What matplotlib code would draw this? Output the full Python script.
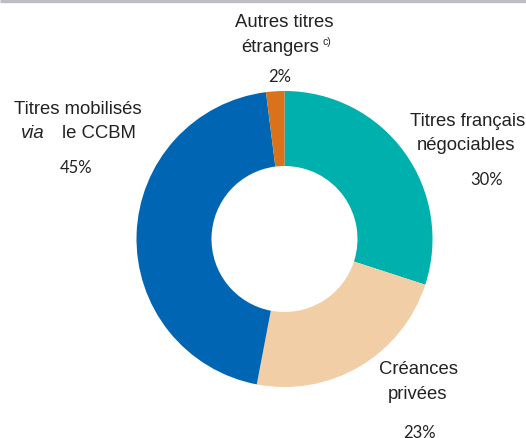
import matplotlib
matplotlib.use("Agg")
import matplotlib.pyplot as plt

# Répartition des garanties
categories = ["Titres français négociables", "Créances privées",
              "Titres mobilisés via le CCBM", "Autres titres étrangers"]
shares = [30, 23, 45, 2]
share_labels = ["30%", "23%", "45%", "2%"]
colors = ["#00b0ad", "#f2cea6", "#0066b3", "#d8731b"]

W, H = 526, 439
fig = plt.figure(figsize=(W / 100, H / 100), dpi=100)
ax = fig.add_axes([0, 0, 1, 1])

cx, cy = 284.5, H - 240
r_out, r_in = 148, 73

ax.pie(shares, colors=colors, startangle=90, counterclock=False,
       center=(cx, cy), radius=r_out, frame=True,
       wedgeprops=dict(width=r_out - r_in, linewidth=0))
ax.set_xlim(0, W)
ax.set_ylim(0, H)
ax.set_aspect("auto")
ax.axis("off")

# thin rule along the top edge
ax.plot([0, W], [H - 1.5, H - 1.5], color="#bdbdc2", linewidth=2.4,
        solid_capstyle="butt", clip_on=False)

lab = dict(fontsize=13.3, color="#222222", family="Liberation Sans",
           va="center")
pct = dict(fontsize=12, color="#222222", family="Lato",
           ha="center", va="center")


def Y(y):
    return H - y


# Autres titres étrangers
ax.text(284, Y(22), "Autres titres", ha="center", **lab)
ax.text(280, Y(47), "étrangers", ha="center", **lab)
ax.text(327, Y(42), "c)", fontsize=7.5, color="#222222",
        family="Liberation Sans", ha="center", va="center")
ax.text(280, Y(77), share_labels[3], **pct)

# Titres mobilisés via le CCBM
ax.text(78, Y(110), "Titres mobilisés", ha="center", **lab)
ax.text(33, Y(134), "via", ha="center", style="italic", **lab)
ax.text(99, Y(134), "le CCBM", ha="center", **lab)
ax.text(76, Y(168), share_labels[2], **pct)

# Titres français négociables
ax.text(468, Y(122), "Titres français", ha="center", **lab)
ax.text(466, Y(146), "négociables", ha="center", **lab)
ax.text(487, Y(180), share_labels[0], **pct)

# Créances privées
ax.text(418, Y(370), "Créances", ha="center", **lab)
ax.text(418, Y(395), "privées", ha="center", **lab)
ax.text(420, Y(433), share_labels[1], **pct)

fig.savefig("out.png", dpi=100)
